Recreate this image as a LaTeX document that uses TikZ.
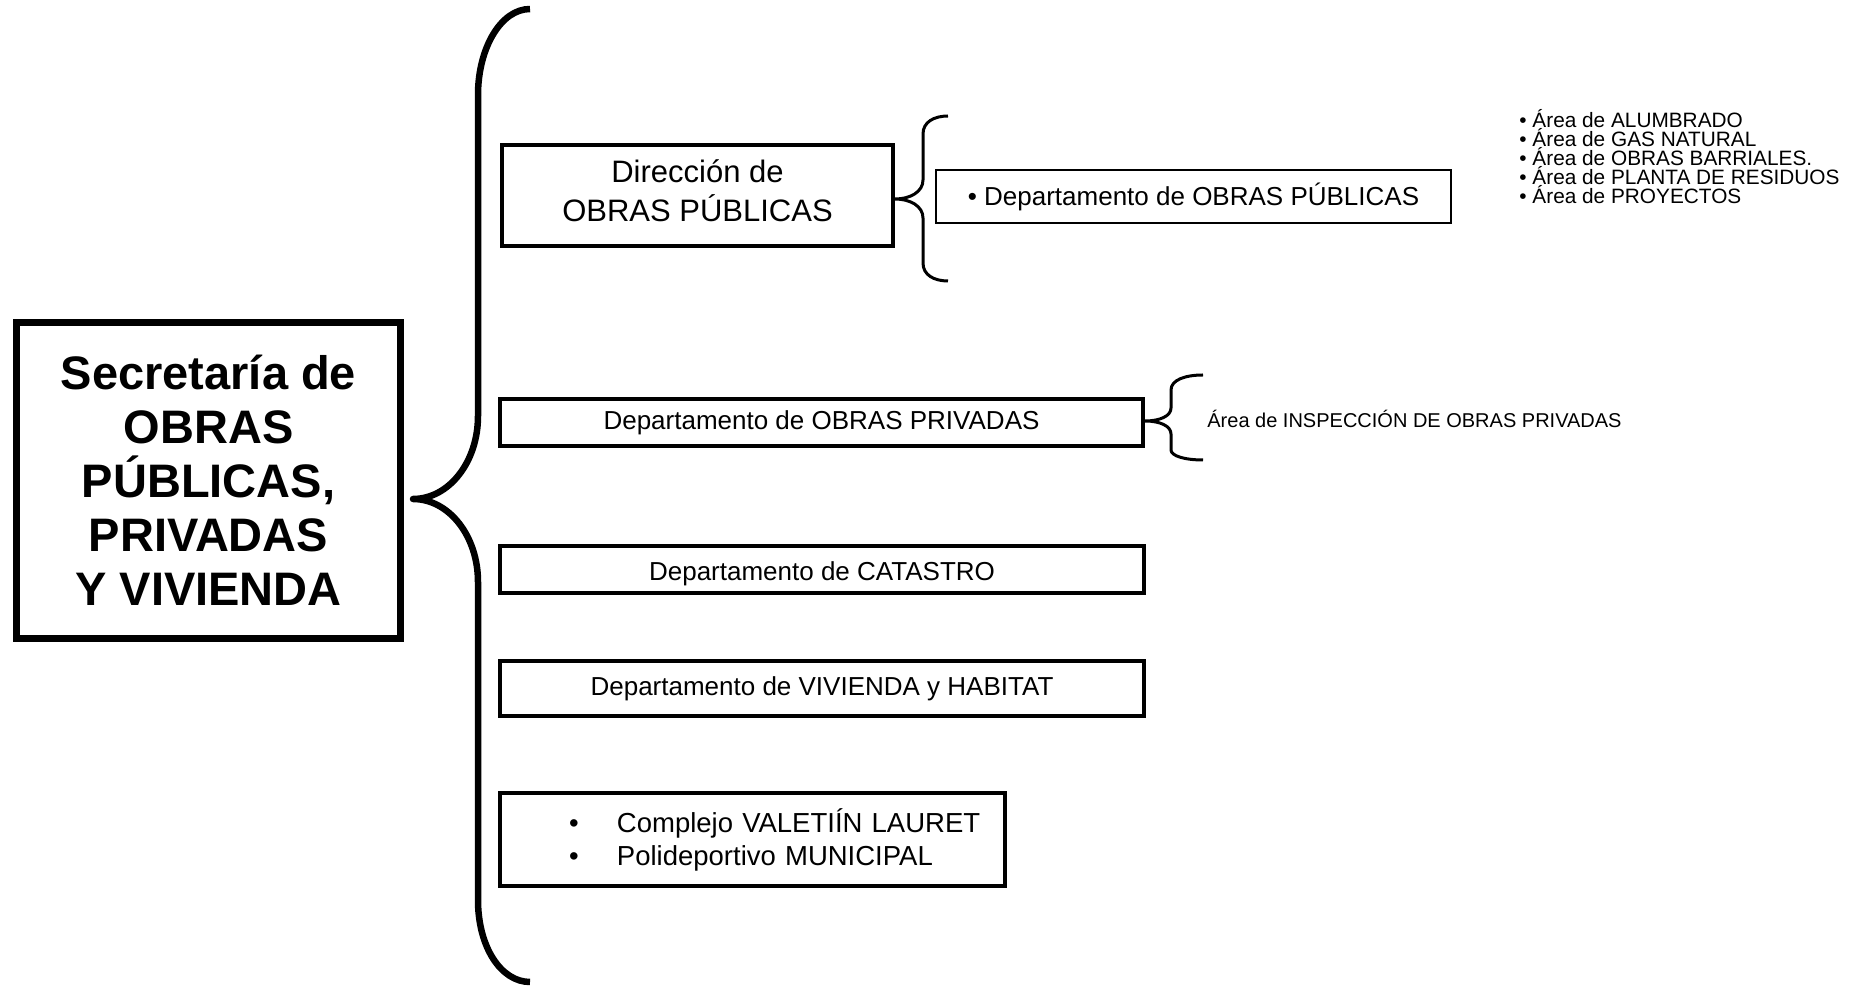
\documentclass[tikz,border=0pt]{standalone}
\usepackage{fontspec}
\setmainfont{Liberation Sans}
\usepackage{tikz}

\begin{document}
\begin{tikzpicture}[x=0.5pt, y=-0.5pt,
    caja/.style={draw, line width=1.75pt, inner sep=0pt, align=center,
      font=\fontsize{13}{15}\selectfont},
    lista/.style={inner sep=0pt, align=left, font=\fontsize{10.4}{9.5}\selectfont},
    llave/.style={line width=1.5pt, line join=round}]

    \useasboundingbox (0,0) rectangle (1860,988);

    % Secretaria
    \node[caja, line width=3.5pt, minimum width=192pt, minimum height=158pt,
      font=\bfseries\fontsize{23.5}{27}\selectfont] (secretaria) at (208.5,480.5)
      {Secretaría de\\OBRAS\\PÚBLICAS,\\PRIVADAS\\Y VIVIENDA};

    % llave grande
    \draw[llave, line width=3.25pt] (530,9) .. controls (501,9) and (478,48) .. (478,95)
      -- (478,416) .. controls (478,462) and (449,499) .. (413,499)
      .. controls (449,499) and (478,536) .. (478,582)
      -- (478,900) .. controls (478,947) and (501,982) .. (530,982);

    % Direccion
    \node[caja, line width=2pt, minimum width=195.5pt, minimum height=50.5pt,
      font=\fontsize{15.5}{19.5}\selectfont] (direccion) at (697.5,195.5)
      {Dirección de\\OBRAS PÚBLICAS\rule[-4.5pt]{0pt}{0pt}};

    \draw[llave] (948,116) .. controls (934,116) and (923,122) .. (923,134)
      -- (923,180) .. controls (923,192) and (910,199) .. (895,199)
      .. controls (910,199) and (923,206) .. (923,218)
      -- (923,263) .. controls (923,275) and (934,281) .. (948,281);

    \node[caja, line width=1pt, minimum width=257.5pt, minimum height=26.5pt]
      (depobras) at (1193.5,196.5) {\textbullet\ Departamento de OBRAS PÚBLICAS};

    \node[lista, anchor=north west] (areas) at (1519,109)
      {\textbullet\ Área de ALUMBRADO\\
       \textbullet\ Área de GAS NATURAL\\
       \textbullet\ Área de OBRAS BARRIALES.\\
       \textbullet\ Área de PLANTA DE RESIDUOS\\
       \textbullet\ Área de PROYECTOS};

    % Obras privadas
    \node[caja, minimum width=321.5pt, minimum height=23.5pt]
      (privadas) at (821.5,422.5) {Departamento de OBRAS PRIVADAS};

    \draw[llave] (1203,375) .. controls (1185,375) and (1171,380) .. (1171,390)
      -- (1171,408) .. controls (1171,416) and (1160,421) .. (1145,421)
      .. controls (1160,421) and (1171,426) .. (1171,434)
      -- (1171,450) .. controls (1171,456) and (1185,460) .. (1203,460);

    \node[lista, font=\fontsize{10}{9.5}\selectfont, anchor=base west] (inspeccion) at (1207,428)
      {Área de INSPECCIÓN DE OBRAS PRIVADAS};

    % Catastro y vivienda
    \node[caja, minimum width=322pt, minimum height=23.5pt, text height=14pt, text depth=2.7pt]
      (catastro) at (822,569.5) {Departamento de CATASTRO};
    \node[caja, minimum width=322pt, minimum height=27.5pt]
      (vivienda) at (822,688.5) {Departamento de VIVIENDA y HABITAT};

    % Complejo
    \node[caja, text width=252.5pt, align=left, minimum height=46.5pt,
      font=\fontsize{13.75}{16.5}\selectfont] (complejo) at (752.5,839.5)
      {\hspace*{34.5pt}\makebox[24pt][l]{\textbullet}Complejo VALETIÍN LAURET\\
       \hspace*{34.5pt}\makebox[24pt][l]{\textbullet}Polideportivo MUNICIPAL};
\end{tikzpicture}
\end{document}
